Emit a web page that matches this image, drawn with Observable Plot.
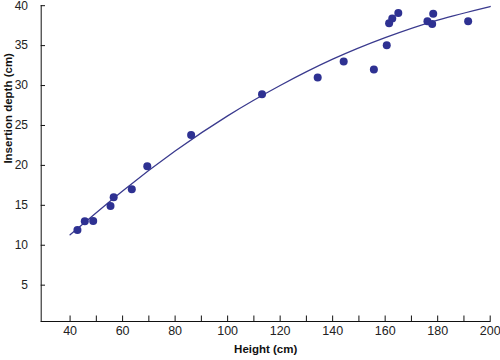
<!DOCTYPE html>
<html>
<head>
<meta charset="utf-8">
<script src="https://cdn.jsdelivr.net/npm/d3@7"></script>
<script src="https://cdn.jsdelivr.net/npm/@observablehq/plot@0.6"></script>
<style>
  html, body { margin: 0; padding: 0; background: #fff; }
  svg { display: block; }
</style>
</head>
<body>
<div id="chart"></div>
<script>
// Observed points
const heights = [42.8, 45.6, 48.8, 55.4, 56.6, 63.5, 69.4, 86.1, 113.1, 134.3, 144.2, 155.7, 160.6, 161.5, 162.7, 165.0, 176.1, 177.9, 178.3, 191.6];
const depths  = [11.9, 13.0, 13.05, 14.9, 16.0, 17.0, 19.9, 23.8, 28.9, 31.0, 33.0, 32.0, 35.05, 37.8, 38.4, 39.1, 38.05, 37.7, 39.0, 38.05];

// Fitted curve
const curveX = [40, 60, 80, 100, 120, 140, 160, 180, 200];
const curveY = [11.3, 16.8, 21.8, 26.2, 30.0, 33.3, 36.0, 38.2, 39.9];

const xTicks = [40, 50, 60, 70, 80, 90, 100, 110, 120, 130, 140, 150, 160, 170, 180, 190, 200];
const xLabels = [40, 60, 80, 100, 120, 140, 160, 180, 200];
const yTicks = [5, 10, 15, 20, 25, 30, 35, 40];

const points = heights.map((h, i) => ({h, d: depths[i]}));
const curve = curveX.map((x, i) => ({x, y: curveY[i]}));

const color = "#2e3192";
const font = "'Liberation Sans', Arial, Helvetica, sans-serif";

const chart = Plot.plot({
  width: 500,
  height: 360,
  marginLeft: 40.7,
  marginRight: 10.3,
  marginTop: 5.2,
  marginBottom: 39,
  style: {fontFamily: font, fontSize: "12px", color: "#222", background: "#fff"},
  x: {domain: [29, 200]},
  y: {domain: [0.45, 40]},
  marks: [
    Plot.frame({anchor: "left", stroke: "#111"}),
    Plot.frame({anchor: "bottom", stroke: "#111"}),
    Plot.axisX({ticks: xTicks, tickSize: -5.5, tickFormat: () => "", label: null, stroke: "#111"}),
    Plot.axisX({ticks: xLabels, tickSize: 0, tickPadding: 5, label: null, fill: "#222", fontSize: 12.5}),
    Plot.axisY({ticks: yTicks, tickSize: -4.3, tickPadding: 17.5, label: null, stroke: "#111", fill: "#222", fontSize: 12}),
    Plot.text(["Height (cm)"], {frameAnchor: "bottom", dy: 31, fontWeight: "bold", fontSize: 11.5, fill: "#111"}),
    Plot.text(["Insertion depth (cm)"], {frameAnchor: "left", dx: -33, rotate: -90, fontWeight: "bold", fontSize: 11.5, fill: "#111"}),
    Plot.line(curve, {x: "x", y: "y", curve: "natural", stroke: "#3a3a8e", strokeWidth: 1.3}),
    Plot.dot(points, {x: "h", y: "d", r: 4, fill: color, stroke: null})
  ]
});

document.getElementById("chart").appendChild(chart);
</script>
</body>
</html>
